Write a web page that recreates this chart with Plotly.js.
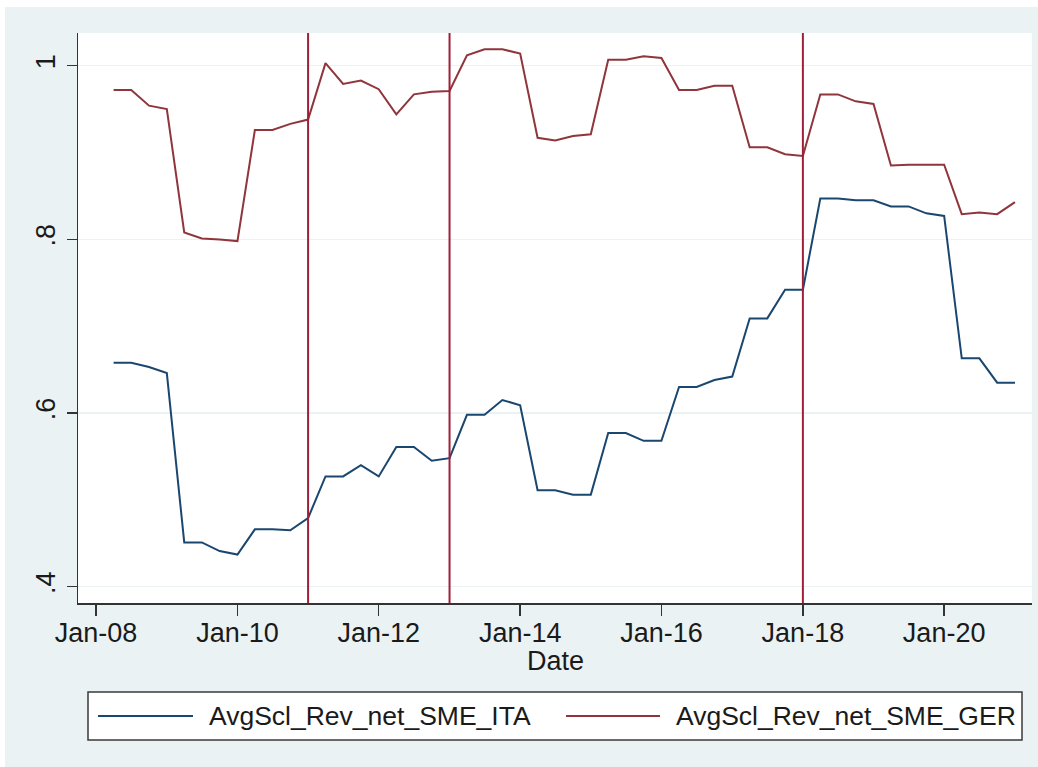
<!DOCTYPE html>
<html>
<head>
<meta charset="utf-8">
<script src="https://cdn.plot.ly/plotly-3.0.1.min.js"></script>
<style>
  html, body { margin: 0; padding: 0; background: #ffffff; }
  #chart { width: 1038px; height: 767px; }
</style>
</head>
<body>
<div id="chart"></div>
<script>
// ---- Data (quarterly) ----
const dates = [
  '2008-04-01','2008-07-01','2008-10-01',
  '2009-01-01','2009-04-01','2009-07-01','2009-10-01',
  '2010-01-01','2010-04-01','2010-07-01','2010-10-01',
  '2011-01-01','2011-04-01','2011-07-01','2011-10-01',
  '2012-01-01','2012-04-01','2012-07-01','2012-10-01',
  '2013-01-01','2013-04-01','2013-07-01','2013-10-01',
  '2014-01-01','2014-04-01','2014-07-01','2014-10-01',
  '2015-01-01','2015-04-01','2015-07-01','2015-10-01',
  '2016-01-01','2016-04-01','2016-07-01','2016-10-01',
  '2017-01-01','2017-04-01','2017-07-01','2017-10-01',
  '2018-01-01','2018-04-01','2018-07-01','2018-10-01',
  '2019-01-01','2019-04-01','2019-07-01','2019-10-01',
  '2020-01-01','2020-04-01','2020-07-01','2020-10-01',
  '2021-01-01'
];

const sme_ITA = [
  0.658, 0.658, 0.653,
  0.646, 0.451, 0.451, 0.441,
  0.437, 0.466, 0.466, 0.465,
  0.479, 0.527, 0.527, 0.540,
  0.527, 0.561, 0.561, 0.545,
  0.548, 0.598, 0.598, 0.615,
  0.609, 0.511, 0.511, 0.506,
  0.506, 0.577, 0.577, 0.568,
  0.568, 0.630, 0.630, 0.638,
  0.642, 0.709, 0.709, 0.742,
  0.742, 0.847, 0.847, 0.845,
  0.845, 0.838, 0.838, 0.830,
  0.827, 0.663, 0.663, 0.635,
  0.635
];

const sme_GER = [
  0.972, 0.972, 0.954,
  0.950, 0.808, 0.801, 0.800,
  0.798, 0.926, 0.926, 0.933,
  0.938, 1.003, 0.979, 0.983,
  0.973, 0.944, 0.967, 0.970,
  0.971, 1.012, 1.019, 1.019,
  1.014, 0.917, 0.914, 0.919,
  0.921, 1.007, 1.007, 1.011,
  1.009, 0.972, 0.972, 0.977,
  0.977, 0.906, 0.906, 0.898,
  0.896, 0.967, 0.967, 0.959,
  0.956, 0.885, 0.886, 0.886,
  0.886, 0.829, 0.831, 0.829,
  0.843
];

const seriesNames = ['AvgScl_Rev_net_SME_ITA', 'AvgScl_Rev_net_SME_GER'];
const eventDates = ['2011-01-01', '2013-01-01', '2018-01-01'];

const xTickVals = ['2008-01-01','2010-01-01','2012-01-01','2014-01-01','2016-01-01','2018-01-01','2020-01-01'];
const xTickText = ['Jan-08','Jan-10','Jan-12','Jan-14','Jan-16','Jan-18','Jan-20'];
const yTickVals = [0.4, 0.6, 0.8, 1.0];
const yTickText = ['.4', '.6', '.8', '1'];

// ---- Styling ----
const W = 1038, H = 767;
const M = { l: 78, r: 6, t: 33, b: 164 };
const PW = W - M.l - M.r, PH = H - M.t - M.b;
const px = x => (x - M.l) / PW;           // pixel -> paper x
const py = y => (H - M.b - y) / PH;       // pixel -> paper y

const FONT = 'Liberation Sans, Arial, sans-serif';
const FS = 27;
const LFS = 26.5;
const TXT = '#1a1a1a';
const BLUE = '#1a476f';
const RED = '#90353b';
const VLINE = '#a01f38';
const BG = '#eaf2f3';

const traces = [
  { x: dates, y: sme_ITA, name: seriesNames[0], type: 'scatter', mode: 'lines',
    line: { color: BLUE, width: 2 }, showlegend: false },
  { x: dates, y: sme_GER, name: seriesNames[1], type: 'scatter', mode: 'lines',
    line: { color: RED, width: 2 }, showlegend: false }
];

const shapes = [];
// white border of the image (top and left)
shapes.push({ type: 'rect', xref: 'paper', yref: 'paper', x0: px(0), x1: px(W), y0: py(0), y1: py(7),
  fillcolor: '#ffffff', line: { width: 0 }, layer: 'below' });
shapes.push({ type: 'rect', xref: 'paper', yref: 'paper', x0: px(0), x1: px(5), y0: py(0), y1: py(H),
  fillcolor: '#ffffff', line: { width: 0 }, layer: 'below' });
// vertical event lines
eventDates.forEach(d => shapes.push({
  type: 'line', xref: 'x', yref: 'paper', x0: d, x1: d, y0: 0, y1: 1,
  line: { color: VLINE, width: 2 }
}));
// legend box
shapes.push({ type: 'rect', xref: 'paper', yref: 'paper', x0: px(88), x1: px(1022), y0: py(740), y1: py(692),
  fillcolor: '#ffffff', line: { color: '#3a3a3a', width: 1.5 } });
// legend samples
shapes.push({ type: 'line', xref: 'paper', yref: 'paper', x0: px(98), x1: px(193), y0: py(716), y1: py(716),
  line: { color: BLUE, width: 2 } });
shapes.push({ type: 'line', xref: 'paper', yref: 'paper', x0: px(566), x1: px(660), y0: py(716), y1: py(716),
  line: { color: RED, width: 2 } });

const annotations = [
  { xref: 'paper', yref: 'paper', x: px(207), y: py(716), xanchor: 'left', yanchor: 'middle',
    text: seriesNames[0], showarrow: false, font: { family: FONT, size: LFS, color: TXT } },
  { xref: 'paper', yref: 'paper', x: px(674), y: py(716), xanchor: 'left', yanchor: 'middle',
    text: seriesNames[1], showarrow: false, font: { family: FONT, size: LFS, color: TXT } },
  { xref: 'paper', yref: 'paper', x: px(555), y: py(661), xanchor: 'center', yanchor: 'middle',
    text: 'Date', showarrow: false, font: { family: FONT, size: FS, color: TXT } }
];

const layout = {
  width: W, height: H,
  margin: M,
  paper_bgcolor: BG,
  plot_bgcolor: '#ffffff',
  font: { family: FONT, size: FS, color: TXT },
  showlegend: false,
  xaxis: {
    type: 'date',
    range: ['2007-09-30', '2021-03-30'],
    tickmode: 'array', tickvals: xTickVals, ticktext: xTickText,
    ticks: 'outside', ticklen: 11, tickwidth: 1.5, tickcolor: '#333333',
    ticklabelstandoff: -6,
    showline: true, linecolor: '#333333', linewidth: 1.5,
    showgrid: false, zeroline: false,
    tickfont: { family: FONT, size: FS, color: TXT }
  },
  yaxis: {
    range: [0.3812, 1.0377],
    tickmode: 'array', tickvals: yTickVals, ticktext: yTickText,
    tickangle: -90,
    ticks: 'outside', ticklen: 10, tickwidth: 1.5, tickcolor: '#333333',
    ticklabelstandoff: 1,
    showline: true, linecolor: '#333333', linewidth: 1.5,
    showgrid: true, gridcolor: BG, gridwidth: 1.5,
    zeroline: false,
    tickfont: { family: FONT, size: FS, color: TXT }
  },
  shapes: shapes,
  annotations: annotations
};

Plotly.newPlot('chart', traces, layout, { displayModeBar: false, staticPlot: true });
</script>
</body>
</html>
